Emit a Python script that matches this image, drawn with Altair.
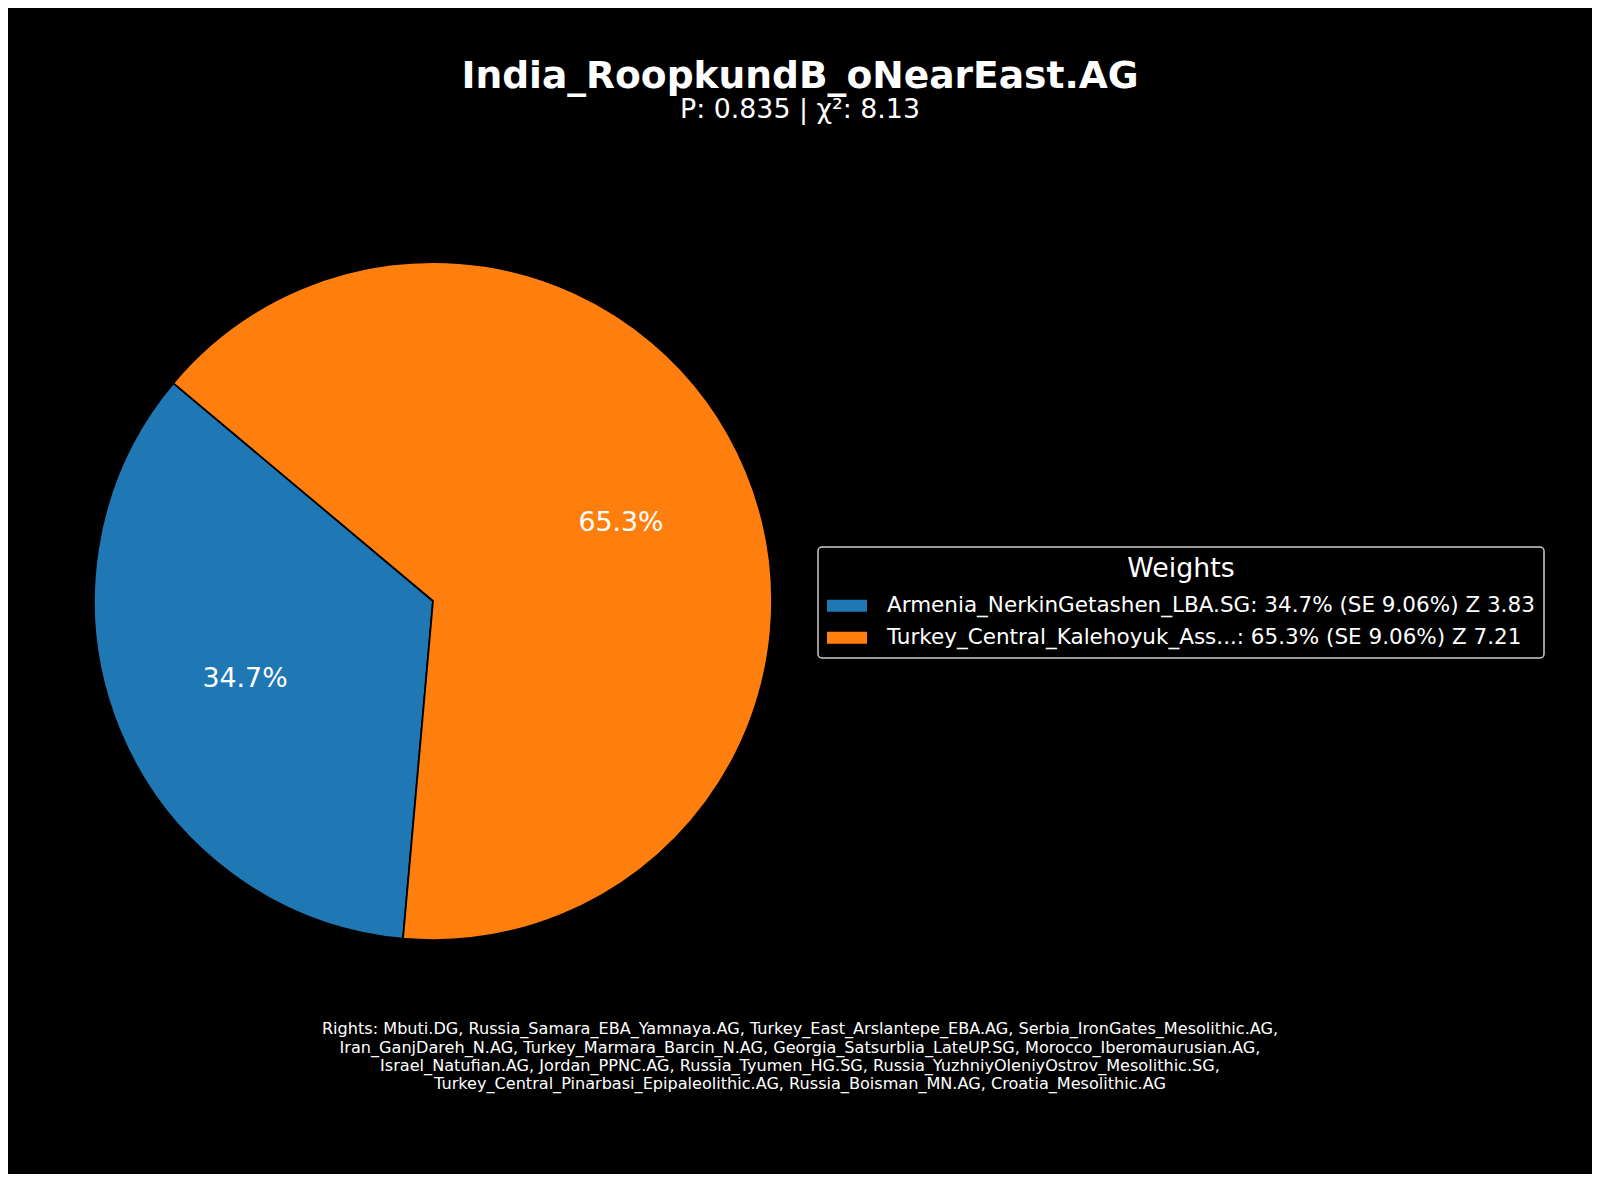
import math
import altair as alt
import pandas as pd

# ---- data ----
sources = ["Armenia_NerkinGetashen_LBA.SG", "Turkey_Central_Kalehoyuk_Ass..."]
weights = [34.7, 65.3]
std_errs = [9.06, 9.06]
z_scores = [3.83, 7.21]
colors = ["#1f77b4", "#ff7f0e"]

title_text = "India_RoopkundB_oNearEast.AG"
p_value = 0.835
chisq = 8.13
rights_lines = [
    "Rights: Mbuti.DG, Russia_Samara_EBA_Yamnaya.AG, Turkey_East_Arslantepe_EBA.AG, Serbia_IronGates_Mesolithic.AG,",
    "Iran_GanjDareh_N.AG, Turkey_Marmara_Barcin_N.AG, Georgia_Satsurblia_LateUP.SG, Morocco_Iberomaurusian.AG,",
    "Israel_Natufian.AG, Jordan_PPNC.AG, Russia_Tyumen_HG.SG, Russia_YuzhniyOleniyOstrov_Mesolithic.SG,",
    "Turkey_Central_Pinarbasi_Epipaleolithic.AG, Russia_Boisman_MN.AG, Croatia_Mesolithic.AG",
]

labels = [f"{n}: {w:.1f}% (SE {s:.2f}%) Z {z:.2f}" for n, w, s, z in zip(sources, weights, std_errs, z_scores)]
df = pd.DataFrame({
    "label": labels,
    "weight": weights,
    "pct": [f"{w:.1f}%" for w in weights],
    "idx": list(range(len(weights))),
})

FONT = "DejaVu Sans"
W, H = 1584, 1166
CX, CY, R = 425, 593, 339
start = math.radians(310)

theta = alt.Theta("weight:Q", stack=True, scale=alt.Scale(range=[start, start + 2 * math.pi]))
order = alt.Order("idx:Q", sort="descending")

color = alt.Color(
    "label:N",
    scale=alt.Scale(domain=labels, range=colors),
    legend=alt.Legend(
        title="Weights",
        orient="none",
        legendX=810,
        legendY=539,
        direction="vertical",
        fillColor="black",
        strokeColor="#cccccc",
        padding=9,
        titleFont=FONT,
        titleFontSize=26.8,
        titleFontWeight="normal",
        titleColor="white",
        titleAnchor="middle",
        titlePadding=3,
        labelFont=FONT,
        labelFontSize=21.5,
        labelColor="white",
        labelLimit=1000,
        labelOffset=20,
        symbolType="M-1,-0.3H1V0.3H-1Z",
        symbolSize=1600,
        symbolStrokeWidth=0,
        symbolOpacity=1,
        rowPadding=1,
    ),
)

base = alt.Chart(df)

pie = base.mark_arc(radius=R, stroke="black", strokeWidth=1.8).encode(
    theta=theta,
    order=order,
    color=color,
    x=alt.value(CX),
    y=alt.value(CY),
)

pct_text = base.mark_text(radius=R * 0.6, font=FONT, fontSize=26.8, color="white", align="center", baseline="middle").encode(
    theta=theta,
    order=order,
    text="pct:N",
    x=alt.value(CX),
    y=alt.value(CY),
)

title = alt.Chart(pd.DataFrame({"t": [title_text]})).mark_text(
    font=FONT, fontSize=37.6, fontWeight="bold", color="white", align="center", baseline="alphabetic"
).encode(text="t:N", x=alt.value(W / 2), y=alt.value(79.7))

subtitle = alt.Chart(pd.DataFrame({"t": [f"P: {p_value:.3f} | χ²: {chisq:.2f}"]})).mark_text(
    font=FONT, fontSize=26.8, color="white", align="center", baseline="alphabetic"
).encode(text="t:N", x=alt.value(W / 2), y=alt.value(109.8))

footer = alt.Chart(pd.DataFrame({"t": ["\n".join(rights_lines)]})).mark_text(
    font=FONT, fontSize=16.1, color="white", align="center", baseline="alphabetic",
    lineBreak="\n", lineHeight=18.4,
).encode(text="t:N", x=alt.value(W / 2), y=alt.value(1026.3))

chart = alt.layer(pie, pct_text, title, subtitle, footer).properties(
    width=W,
    height=H,
    background="black",
    padding=0,
    autosize=alt.AutoSizeParams(type="none"),
).configure_view(stroke=None).configure_legend(strokeWidth=1.5, cornerRadius=4)

chart.save("out.html", embed_options={"renderer": "svg", "actions": False})
